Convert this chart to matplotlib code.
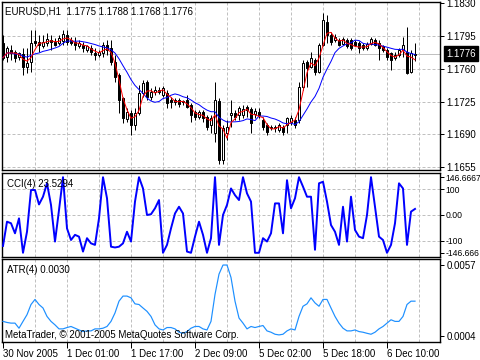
import numpy as np
import pandas as pd
import matplotlib
matplotlib.use("Agg")
import matplotlib.pyplot as plt
from matplotlib import transforms

plt.rcParams['font.family'] = ['Liberation Sans', 'DejaVu Sans']
plt.rcParams['font.size'] = 7

symbol = "EURUSD,H1"

# hourly bars, 30 Nov 2005 09:00 .. 6 Dec 2005
opens = [1.1788, 1.1773, 1.1780, 1.1778, 1.1773, 1.1776, 1.1762, 1.1767, 1.1790, 1.1789,
         1.1784, 1.1788, 1.1791, 1.1789, 1.1788, 1.1790, 1.1796, 1.1791, 1.1789, 1.1784,
         1.1786, 1.1780, 1.1782, 1.1777, 1.1775, 1.1777, 1.1785, 1.1782, 1.1767, 1.1754,
         1.1729, 1.1707, 1.1713, 1.1700, 1.1713, 1.1734, 1.1746, 1.1730, 1.1735, 1.1738,
         1.1732, 1.1734, 1.1727, 1.1725, 1.1727, 1.1725, 1.1727, 1.1722, 1.1714, 1.1709,
         1.1714, 1.1709, 1.1700, 1.1692, 1.1726, 1.1663, 1.1692, 1.1711, 1.1713, 1.1711,
         1.1711, 1.1719, 1.1717, 1.1712, 1.1714, 1.1705, 1.1700, 1.1698, 1.1697, 1.1695,
         1.1698, 1.1700, 1.1703, 1.1705, 1.1705, 1.1741, 1.1767, 1.1762, 1.1770, 1.1757,
         1.1786, 1.1810, 1.1796, 1.1791, 1.1791, 1.1787, 1.1791, 1.1791, 1.1789, 1.1788,
         1.1786, 1.1782, 1.1787, 1.1791, 1.1788, 1.1784, 1.1780, 1.1777, 1.1772, 1.1775,
         1.1780, 1.1778, 1.1757, 1.1775]
highs = [1.1796, 1.1784, 1.1786, 1.1780, 1.1778, 1.1782, 1.1782, 1.1802, 1.1802, 1.1796,
         1.1796, 1.1798, 1.1796, 1.1793, 1.1796, 1.1802, 1.1802, 1.1794, 1.1794, 1.1791,
         1.1789, 1.1786, 1.1786, 1.1782, 1.1780, 1.1789, 1.1791, 1.1791, 1.1775, 1.1756,
         1.1730, 1.1718, 1.1716, 1.1718, 1.1743, 1.1748, 1.1748, 1.1740, 1.1742, 1.1741,
         1.1742, 1.1737, 1.1730, 1.1729, 1.1729, 1.1727, 1.1732, 1.1724, 1.1716, 1.1716,
         1.1716, 1.1711, 1.1711, 1.1746, 1.1729, 1.1700, 1.1705, 1.1727, 1.1716, 1.1720,
         1.1722, 1.1722, 1.1719, 1.1718, 1.1718, 1.1709, 1.1702, 1.1700, 1.1700, 1.1702,
         1.1700, 1.1709, 1.1711, 1.1709, 1.1746, 1.1770, 1.1770, 1.1778, 1.1772, 1.1788,
         1.1820, 1.1818, 1.1799, 1.1797, 1.1793, 1.1794, 1.1793, 1.1793, 1.1791, 1.1790,
         1.1788, 1.1789, 1.1794, 1.1793, 1.1791, 1.1786, 1.1782, 1.1778, 1.1778, 1.1782,
         1.1794, 1.1805, 1.1780, 1.1788]
lows = [1.1770, 1.1767, 1.1770, 1.1767, 1.1770, 1.1754, 1.1756, 1.1757, 1.1784, 1.1778,
        1.1782, 1.1784, 1.1780, 1.1784, 1.1786, 1.1786, 1.1786, 1.1786, 1.1780, 1.1782,
        1.1778, 1.1778, 1.1775, 1.1770, 1.1773, 1.1773, 1.1775, 1.1764, 1.1746, 1.1713,
        1.1702, 1.1703, 1.1689, 1.1695, 1.1711, 1.1730, 1.1727, 1.1727, 1.1732, 1.1733,
        1.1730, 1.1718, 1.1718, 1.1722, 1.1719, 1.1722, 1.1718, 1.1703, 1.1705, 1.1707,
        1.1703, 1.1695, 1.1692, 1.1682, 1.1659, 1.1659, 1.1684, 1.1698, 1.1705, 1.1705,
        1.1708, 1.1709, 1.1692, 1.1708, 1.1708, 1.1695, 1.1689, 1.1695, 1.1693, 1.1693,
        1.1689, 1.1692, 1.1700, 1.1697, 1.1702, 1.1738, 1.1741, 1.1761, 1.1754, 1.1756,
        1.1784, 1.1788, 1.1786, 1.1789, 1.1784, 1.1785, 1.1782, 1.1780, 1.1784, 1.1777,
        1.1780, 1.1780, 1.1785, 1.1784, 1.1770, 1.1778, 1.1770, 1.1759, 1.1770, 1.1773,
        1.1773, 1.1755, 1.1756, 1.1768]
closes = [1.1772, 1.1782, 1.1777, 1.1772, 1.1777, 1.1762, 1.1766, 1.1788, 1.1788, 1.1786,
          1.1789, 1.1792, 1.1789, 1.1786, 1.1793, 1.1797, 1.1789, 1.1788, 1.1786, 1.1788,
          1.1782, 1.1784, 1.1778, 1.1775, 1.1778, 1.1786, 1.1780, 1.1767, 1.1751, 1.1727,
          1.1708, 1.1714, 1.1700, 1.1713, 1.1734, 1.1745, 1.1730, 1.1735, 1.1738, 1.1735,
          1.1740, 1.1724, 1.1725, 1.1727, 1.1723, 1.1726, 1.1719, 1.1711, 1.1709, 1.1714,
          1.1708, 1.1698, 1.1708, 1.1727, 1.1663, 1.1697, 1.1698, 1.1713, 1.1709, 1.1718,
          1.1717, 1.1716, 1.1702, 1.1715, 1.1711, 1.1698, 1.1693, 1.1697, 1.1698, 1.1700,
          1.1693, 1.1708, 1.1708, 1.1700, 1.1741, 1.1766, 1.1761, 1.1772, 1.1757, 1.1786,
          1.1812, 1.1796, 1.1789, 1.1794, 1.1786, 1.1792, 1.1784, 1.1782, 1.1786, 1.1782,
          1.1782, 1.1787, 1.1792, 1.1786, 1.1782, 1.1780, 1.1773, 1.1770, 1.1775, 1.1780,
          1.1785, 1.1756, 1.1777, 1.1776]

cci = [-120, -26, -32, -71, -13, -146.7, -65, 97, 97, 41,
       71, 123, 39, -103, 19, 146.7, -52, -97, -77, -84,
       -142, -90, -110, -116, -13, 146.7, 65, -123, -126, -123,
       -110, -65, -103, 52, 146.7, 103, 0, 3, 26, 58,
       -146.7, -116, -52, 6, 32, 6, -142, -146.7, -84, -26,
       -77, -146.7, -90, 146.7, -116, 0, 39, 103, 77, 58,
       146.7, 84, 52, -146.7, -146.7, -90, -103, -71, 45, 45,
       -71, 135, 26, 65, 146.7, 110, 71, 71, -135, 123,
       129, 52, -39, -65, -116, 32, -103, 71, -58, -84,
       -90, 0, 146.7, 32, -84, -97, -146.7, -116, -32, 123,
       103, -116, 13, 23.5294]

atr = [0.00149, 0.00141, 0.00136, 0.00136, 0.00098, 0.00149, 0.00199, 0.00275, 0.00313, 0.00275,
       0.00249, 0.00186, 0.00149, 0.00123, 0.00093, 0.00093, 0.00103, 0.00111, 0.00098, 0.00085,
       0.00073, 0.00078, 0.00078, 0.00093, 0.00093, 0.00098, 0.00111, 0.00149, 0.00212, 0.00300,
       0.00338, 0.00338, 0.00325, 0.00280, 0.00275, 0.00249, 0.00224, 0.00186, 0.00123, 0.00093,
       0.00085, 0.00103, 0.00103, 0.00093, 0.00068, 0.00060, 0.00073, 0.00098, 0.00111, 0.00111,
       0.00093, 0.00085, 0.00149, 0.00350, 0.00502, 0.00570, 0.00570, 0.00477, 0.00300, 0.00174,
       0.00136, 0.00093, 0.00111, 0.00103, 0.00111, 0.00118, 0.00078, 0.00068, 0.00053, 0.00048,
       0.00053, 0.00078, 0.00093, 0.00085, 0.00186, 0.00262, 0.00280, 0.00325, 0.00287, 0.00262,
       0.00313, 0.00313, 0.00249, 0.00186, 0.00136, 0.00098, 0.00078, 0.00078, 0.00085, 0.00073,
       0.00068, 0.00060, 0.00053, 0.00068, 0.00093, 0.00111, 0.00136, 0.00161, 0.00149, 0.00149,
       0.00186, 0.00275, 0.00300, 0.00300]

time_labels = ["30 Nov 2005", "1 Dec 01:00", "1 Dec 17:00", "2 Dec 09:00",
               "5 Dec 02:00", "5 Dec 18:00", "6 Dec 10:00"]
time_label_bars = [0, 16, 32, 48, 64, 80, 96]
price_ticks = [1.1830, 1.1795, 1.1760, 1.1725, 1.1690, 1.1655]
cci_ticks = [146.6667, 100, 0, -100, -146.666]
cci_tick_labels = ["146.6667", "100", "0.00", "-100", "-146.666"]
cci_levels = [100, 0, -100]
atr_ticks = [0.0057, 0.0004]

px = 0.72  # one pixel in points at dpi 100
grid_col = "#c0c0c0"
dash = (0, (3, 2))

df = pd.DataFrame({"open": opens, "high": highs, "low": lows, "close": closes})
x = np.arange(len(df))
ma_fast = df["close"].rolling(3, min_periods=1).mean()
ma_slow = df["close"].rolling(10, min_periods=1).mean()

fig = plt.figure(figsize=(4.8, 3.6), dpi=100)
ax_main = fig.add_axes([2 / 480, 1 - 170 / 360, 438 / 480, 168 / 360])
ax_cci = fig.add_axes([2 / 480, 1 - 257 / 360, 438 / 480, 84 / 360])
ax_atr = fig.add_axes([2 / 480, 1 - 342 / 360, 438 / 480, 83 / 360])

xlim = (-0.25, 109.25)
grid_bars = np.arange(8, 105, 8)
for ax in (ax_main, ax_cci, ax_atr):
    ax.set_xlim(*xlim)
    for gb in grid_bars:
        ax.axvline(gb, color=grid_col, lw=px, ls=dash, zorder=0)
    for s in ax.spines.values():
        s.set_linewidth(1.0)
        s.set_color("black")
    ax.yaxis.tick_right()
    ax.tick_params(axis="y", length=3, width=px, pad=1.5, labelsize=7)
    ax.tick_params(axis="x", bottom=False, labelbottom=False)

# main price window
for p in price_ticks[1:]:
    ax_main.axhline(p, color=grid_col, lw=px, ls=dash, zorder=0)
ax_main.axhline(closes[-1], color=grid_col, lw=px, zorder=0)

ax_main.vlines(x, df["low"], df["high"], color="black", lw=px, zorder=2)
up = df["close"] >= df["open"]
body_lo = np.minimum(df["open"], df["close"])
body_h = np.maximum((df["close"] - df["open"]).abs(), 0.00002)
ax_main.bar(x[up], body_h[up], bottom=body_lo[up], width=0.62, facecolor="white",
            edgecolor="black", linewidth=px, zorder=3)
ax_main.bar(x[~up], body_h[~up], bottom=body_lo[~up], width=0.62, facecolor="black",
            edgecolor="black", linewidth=px, zorder=3)
ax_main.plot(x, ma_slow, color="#0000ff", lw=px, zorder=4)
ax_main.plot(x, ma_fast, color="#ff0000", lw=px, zorder=4)

ax_main.set_ylim(1.16521, 1.18314)
ax_main.set_yticks(price_ticks)
ax_main.set_yticklabels([f"{p:.4f}" for p in price_ticks])

trans = transforms.blended_transform_factory(ax_main.transAxes, ax_main.transData)
ax_main.text(1 + 6 / 438, closes[-1], f"{closes[-1]:.4f}", transform=trans, color="white",
             ha="left", va="center", fontsize=7, clip_on=False,
             bbox=dict(boxstyle="square,pad=0.25", fc="black", ec="black"))

header = f"{symbol}  {opens[-1]:.4f} {highs[-1]:.4f} {lows[-1]:.4f} {closes[-1]:.4f}"
fig.text(5 / 480, 1 - 11 / 360, header, ha="left", va="center", fontsize=7)

# CCI window
for lv in cci_levels:
    ax_cci.axhline(lv, color=grid_col, lw=px, ls=dash, zorder=0)
ax_cci.plot(x, cci, color="#0000ff", lw=1.4, zorder=3)
ax_cci.set_ylim(-163, 163)
ax_cci.set_yticks(cci_ticks)
ax_cci.set_yticklabels(cci_tick_labels)
ax_cci.tick_params(axis="y", labelsize=6.2, pad=1)
fig.text(7 / 480, 1 - 184 / 360, f"CCI(4) {cci[-1]:.4f}", ha="left", va="center", fontsize=7)

# ATR window
ax_atr.plot(x, atr, color="#1e90ff", lw=px * 1.2, zorder=3)
ax_atr.set_ylim(-0.00005, 0.00615)
ax_atr.set_yticks(atr_ticks)
ax_atr.set_yticklabels([f"{v:.4f}" for v in atr_ticks])
fig.text(7 / 480, 1 - 270 / 360, f"ATR(4) {atr[-1]:.4f}", ha="left", va="center", fontsize=7)
fig.text(5 / 480, 1 - 335 / 360, "MetaTrader, \u00a9 2001-2005 MetaQuotes Software Corp.",
         ha="left", va="center", fontsize=7)

ax_atr.set_xticks(time_label_bars)
ax_atr.set_xticklabels(time_labels)
ax_atr.tick_params(axis="x", bottom=True, labelbottom=True, length=4, width=px, pad=1, labelsize=7)
for lab in ax_atr.get_xticklabels():
    lab.set_ha("left")

fig.savefig("out.png", dpi=100)
